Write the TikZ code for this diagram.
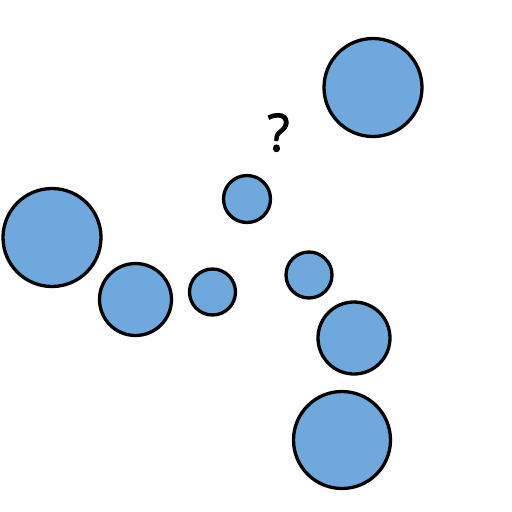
\documentclass[tikz,border=0pt]{standalone}
\usepackage{fontspec}
\setmainfont{Open Sans}
\newfontfamily\qfont[FakeBold=1.5]{Open Sans}
\definecolor{bubble}{HTML}{6FA8DC}
\begin{document}
\begin{tikzpicture}[x=1pt,y=-1pt,
  bub/.style={circle,draw=black,line width=3.3pt,fill=bubble,inner sep=0pt,minimum size=#1}]
\useasboundingbox (0,0) rectangle (512,512);
\node[bub=98pt] (c1) at (373,87.5) {};
\node[bub=47pt] (c2) at (247,199) {};
\node[bub=98pt] (c3) at (52,237.5) {};
\node[bub=72pt] (c4) at (135.5,299.5) {};
\node[bub=46pt] (c5) at (212.5,292) {};
\node[bub=46pt] (c6) at (309,275) {};
\node[bub=72pt] (c7) at (354,338) {};
\node[bub=97pt] (c8) at (342,440) {};
\node[font=\qfont\fontsize{52}{60}\selectfont,inner sep=0pt,anchor=base] (q) at (278.5,151) {?};
\end{tikzpicture}
\end{document}
